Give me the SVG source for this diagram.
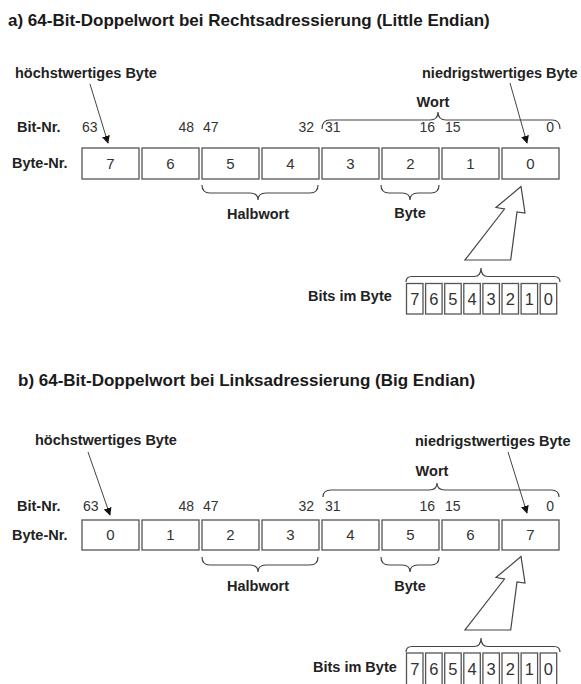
<svg xmlns="http://www.w3.org/2000/svg" width="581" height="684" viewBox="0 0 581 684">
<defs>
<style>
.title{font-family:"Liberation Sans",Arial,sans-serif;font-weight:bold;font-size:17px;fill:#1a1a1a}
.lbl{font-family:"Liberation Sans",Arial,sans-serif;font-weight:bold;font-size:14.5px;fill:#222}
.num{font-family:"Liberation Sans",Arial,sans-serif;font-size:14px;fill:#333}
.bnum{font-family:"Liberation Sans",Arial,sans-serif;font-size:15px;fill:#333;text-anchor:middle}
.bit{font-family:"Liberation Sans",Arial,sans-serif;font-size:16.5px;fill:#333;text-anchor:middle}
.box{fill:#fff;stroke:#555;stroke-width:1.3}
.brace{fill:none;stroke:#444;stroke-width:1.2}
.ptr{fill:none;stroke:#444;stroke-width:1;marker-end:url(#ah)}
.big{fill:#fff;stroke:#444;stroke-width:1.2;stroke-linejoin:miter}
.mid{text-anchor:middle}
.end{text-anchor:end}
</style>
<marker id="ah" viewBox="0 0 10 10" refX="9" refY="5" markerWidth="8" markerHeight="8" markerUnits="userSpaceOnUse" orient="auto">
<path d="M0,0 L10,5 L0,10 z" fill="#111"/>
</marker>
</defs>

<!-- ========== Part a ========== -->
<g id="title-a"><text class="title" x="8" y="26">a) 64-Bit-Doppelwort bei Rechtsadressierung (Little Endian)</text></g>
<g id="msb-a"><text class="lbl" x="15" y="78">höchstwertiges Byte</text></g>
<g id="lsb-a"><text class="lbl" x="422" y="78">niedrigstwertiges Byte</text></g>
<g id="wort-a">
<text class="lbl mid" x="433" y="107">Wort</text>
<path class="brace" d="M322,129 Q322,120 330,120 L430,120 Q438,120 438,112 Q438,120 446,120 L552,120 Q560,120 560,129"/>
</g>
<g id="bitnr-a">
<text class="lbl" x="17" y="132">Bit-Nr.</text>
<text class="num" x="82" y="132">63</text>
<text class="num end" x="194" y="132">48</text>
<text class="num" x="203" y="132">47</text>
<text class="num end" x="314" y="132">32</text>
<text class="num" x="325" y="132">31</text>
<text class="num end" x="435" y="132">16</text>
<text class="num" x="445" y="132">15</text>
<text class="num end" x="554" y="132">0</text>
</g>
<g id="bytes-a">
<text class="lbl" x="12" y="168">Byte-Nr.</text>
<rect class="box" x="82" y="148" width="57" height="31"/>
<rect class="box" x="142" y="148" width="57" height="31"/>
<rect class="box" x="202" y="148" width="57" height="31"/>
<rect class="box" x="262" y="148" width="57" height="31"/>
<rect class="box" x="322" y="148" width="57" height="31"/>
<rect class="box" x="382" y="148" width="57" height="31"/>
<rect class="box" x="442" y="148" width="57" height="31"/>
<rect class="box" x="502" y="148" width="57" height="31"/>
<text class="bnum" x="110.5" y="169">7</text>
<text class="bnum" x="170.5" y="169">6</text>
<text class="bnum" x="230.5" y="169">5</text>
<text class="bnum" x="290.5" y="169">4</text>
<text class="bnum" x="350.5" y="169">3</text>
<text class="bnum" x="410.5" y="169">2</text>
<text class="bnum" x="470.5" y="169">1</text>
<text class="bnum" x="530.5" y="169">0</text>
</g>
<g id="halbwort-a">
<path class="brace" d="M202,185 Q202,193 210,193 L250,193 Q258,193 258,200 Q258,193 266,193 L310,193 Q318,193 318,185"/>
<text class="lbl mid" x="258" y="219">Halbwort</text>
</g>
<g id="byte-a">
<path class="brace" d="M381,185 Q381,193 389,193 L402,193 Q410,193 410,200 Q410,193 418,193 L431,193 Q439,193 439,185"/>
<text class="lbl mid" x="410" y="218">Byte</text>
</g>
<g id="bits-a">
<text class="lbl" x="308" y="301">Bits im Byte</text>
<path class="brace" d="M406,282 Q406,276.5 412,276.5 L474,276.5 Q481,276.5 481,268 Q481,276.5 488,276.5 L554,276.5 Q560,276.5 560,282"/>
<rect class="box" x="406.5" y="283.5" width="16.5" height="30.5"/>
<rect class="box" x="425.6" y="283.5" width="16.5" height="30.5"/>
<rect class="box" x="444.7" y="283.5" width="16.5" height="30.5"/>
<rect class="box" x="463.8" y="283.5" width="16.5" height="30.5"/>
<rect class="box" x="482.9" y="283.5" width="16.5" height="30.5"/>
<rect class="box" x="502" y="283.5" width="16.5" height="30.5"/>
<rect class="box" x="521.1" y="283.5" width="16.5" height="30.5"/>
<rect class="box" x="540.2" y="283.5" width="16.5" height="30.5"/>
<text class="bit" x="414.75" y="305">7</text>
<text class="bit" x="433.85" y="305">6</text>
<text class="bit" x="452.95" y="305">5</text>
<text class="bit" x="472.05" y="305">4</text>
<text class="bit" x="491.15" y="305">3</text>
<text class="bit" x="510.25" y="305">2</text>
<text class="bit" x="529.35" y="305">1</text>
<text class="bit" x="548.45" y="305">0</text>
</g>

<!-- ========== Part b ========== -->
<g id="title-b"><text class="title" x="18" y="386">b) 64-Bit-Doppelwort bei Linksadressierung (Big Endian)</text></g>
<g id="msb-b"><text class="lbl" x="35" y="445">höchstwertiges Byte</text></g>
<g id="lsb-b"><text class="lbl" x="415" y="446">niedrigstwertiges Byte</text></g>
<g id="wort-b">
<text class="lbl mid" x="432" y="476">Wort</text>
<path class="brace" d="M323,497 Q323,490 331,490 L429,490 Q437,490 437,483 Q437,490 445,490 L551,490 Q559,490 559,497"/>
</g>
<g id="bitnr-b">
<text class="lbl" x="17" y="511">Bit-Nr.</text>
<text class="num" x="83" y="511">63</text>
<text class="num end" x="194" y="511">48</text>
<text class="num" x="203" y="511">47</text>
<text class="num end" x="314" y="511">32</text>
<text class="num" x="325" y="511">31</text>
<text class="num end" x="435" y="511">16</text>
<text class="num" x="445" y="511">15</text>
<text class="num end" x="554" y="511">0</text>
</g>
<g id="bytes-b">
<text class="lbl" x="12" y="540">Byte-Nr.</text>
<rect class="box" x="82" y="520" width="57" height="30"/>
<rect class="box" x="142" y="520" width="57" height="30"/>
<rect class="box" x="202" y="520" width="57" height="30"/>
<rect class="box" x="262" y="520" width="57" height="30"/>
<rect class="box" x="322" y="520" width="57" height="30"/>
<rect class="box" x="382" y="520" width="57" height="30"/>
<rect class="box" x="442" y="520" width="57" height="30"/>
<rect class="box" x="502" y="520" width="57" height="30"/>
<text class="bnum" x="110.5" y="540">0</text>
<text class="bnum" x="170.5" y="540">1</text>
<text class="bnum" x="230.5" y="540">2</text>
<text class="bnum" x="290.5" y="540">3</text>
<text class="bnum" x="350.5" y="540">4</text>
<text class="bnum" x="410.5" y="540">5</text>
<text class="bnum" x="470.5" y="540">6</text>
<text class="bnum" x="530.5" y="540">7</text>
</g>
<g id="halbwort-b">
<path class="brace" d="M202,557 Q202,565 210,565 L250,565 Q258,565 258,572 Q258,565 266,565 L310,565 Q318,565 318,557"/>
<text class="lbl mid" x="258" y="591">Halbwort</text>
</g>
<g id="byte-b">
<path class="brace" d="M381,557 Q381,565 389,565 L402,565 Q410,565 410,572 Q410,565 418,565 L431,565 Q439,565 439,557"/>
<text class="lbl mid" x="410" y="591">Byte</text>
</g>
<g id="bits-b">
<text class="lbl" x="313" y="672">Bits im Byte</text>
<path class="brace" d="M406,652 Q406,646.5 412,646.5 L474,646.5 Q481,646.5 481,638 Q481,646.5 488,646.5 L554,646.5 Q560,646.5 560,652"/>
<rect class="box" x="406.5" y="653" width="16.5" height="34"/>
<rect class="box" x="425.6" y="653" width="16.5" height="34"/>
<rect class="box" x="444.7" y="653" width="16.5" height="34"/>
<rect class="box" x="463.8" y="653" width="16.5" height="34"/>
<rect class="box" x="482.9" y="653" width="16.5" height="34"/>
<rect class="box" x="502" y="653" width="16.5" height="34"/>
<rect class="box" x="521.1" y="653" width="16.5" height="34"/>
<rect class="box" x="540.2" y="653" width="16.5" height="34"/>
<text class="bit" x="414.75" y="675">7</text>
<text class="bit" x="433.85" y="675">6</text>
<text class="bit" x="452.95" y="675">5</text>
<text class="bit" x="472.05" y="675">4</text>
<text class="bit" x="491.15" y="675">3</text>
<text class="bit" x="510.25" y="675">2</text>
<text class="bit" x="529.35" y="675">1</text>
<text class="bit" x="548.45" y="675">0</text>
</g>

<!-- ========== Connectors ========== -->
<g id="connectors">
<line class="ptr" x1="90" y1="84" x2="108" y2="143"/>
<line class="ptr" x1="510" y1="83" x2="527" y2="143"/>
<polygon class="big" points="521,186.5 496,207.5 504.5,209 465,260 510.7,260 517,212 525,213"/>
<line class="ptr" x1="88" y1="452" x2="110" y2="515"/>
<line class="ptr" x1="508" y1="452" x2="527" y2="513"/>
<polygon class="big" points="521,556.5 496,577.5 504.5,579 465,630 510.7,630 517,582 525,583"/>
</g>
</svg>
